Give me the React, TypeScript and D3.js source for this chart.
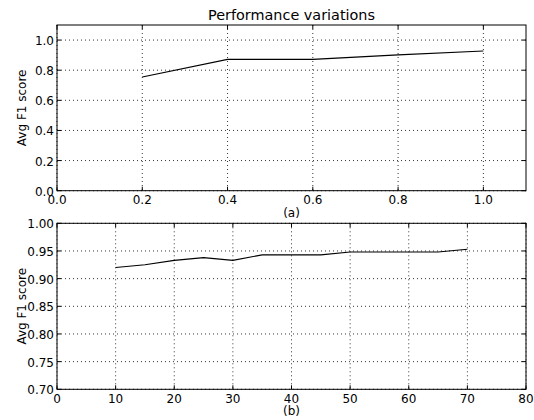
import React from "react";
import * as d3 from "d3";

const xA = [0.2, 0.4, 0.6, 0.8, 1.0];
const yA = [0.755, 0.872, 0.872, 0.902, 0.927];
const xTicksA = [0.0, 0.2, 0.4, 0.6, 0.8, 1.0];
const yTicksA = [0.0, 0.2, 0.4, 0.6, 0.8, 1.0];

const xB = [10, 15, 20, 25, 30, 35, 40, 45, 50, 55, 60, 65, 70];
const yB = [0.92, 0.925, 0.933, 0.938, 0.933, 0.943, 0.943, 0.943, 0.948, 0.948, 0.948, 0.948, 0.953];
const xTicksB = [0, 10, 20, 30, 40, 50, 60, 70, 80];
const yTicksB = [0.7, 0.75, 0.8, 0.85, 0.9, 0.95, 1.0];

const FONT = "'DejaVu Sans', sans-serif";

function Panel(props: {
  top: number; bottom: number; xDomain: [number, number]; yDomain: [number, number];
  xs: number[]; ys: number[]; xTicks: number[]; yTicks: number[];
  xFmt: (v: number) => string; yFmt: (v: number) => string; label: string;
}) {
  const left = 57, right = 526;
  const x = d3.scaleLinear().domain(props.xDomain).range([left, right]);
  const y = d3.scaleLinear().domain(props.yDomain).range([props.bottom, props.top]);
  const line = d3.line<number>().x((_, i) => x(props.xs[i])).y((d) => y(d));
  const tl = 4;
  return (
    <g>
      {props.xTicks.map((t) => (
        <line key={"gx" + t} x1={x(t)} x2={x(t)} y1={props.top} y2={props.bottom}
          stroke="#000" strokeWidth={0.8} strokeDasharray="1,3" />
      ))}
      {props.yTicks.map((t) => (
        <line key={"gy" + t} x1={left} x2={right} y1={y(t)} y2={y(t)}
          stroke="#000" strokeWidth={0.8} strokeDasharray="1,3" />
      ))}
      <path d={line(props.ys) || ""} fill="none" stroke="#000" strokeWidth={1.1} />
      <rect x={left} y={props.top} width={right - left} height={props.bottom - props.top}
        fill="none" stroke="#000" strokeWidth={1} />
      {props.xTicks.map((t) => (
        <g key={"tx" + t}>
          <line x1={x(t)} x2={x(t)} y1={props.bottom} y2={props.bottom - tl} stroke="#000" />
          <line x1={x(t)} x2={x(t)} y1={props.top} y2={props.top + tl} stroke="#000" />
          <text x={x(t)} y={props.bottom + 13.5} textAnchor="middle" fontSize={12} fontFamily={FONT}>
            {props.xFmt(t)}
          </text>
        </g>
      ))}
      {props.yTicks.map((t) => (
        <g key={"ty" + t}>
          <line x1={left} x2={left + tl} y1={y(t)} y2={y(t)} stroke="#000" />
          <line x1={right} x2={right - tl} y1={y(t)} y2={y(t)} stroke="#000" />
          <text x={left - 3} y={y(t) + 5} textAnchor="end" fontSize={12} fontFamily={FONT}>
            {props.yFmt(t)}
          </text>
        </g>
      ))}
      <text x={(left + right) / 2} y={props.bottom + 26} textAnchor="middle" fontSize={12} fontFamily={FONT}>
        {props.label}
      </text>
      <text transform={`translate(26,${(props.top + props.bottom) / 2}) rotate(-90)`}
        textAnchor="middle" fontSize={12} fontFamily={FONT}>Avg F1 score</text>
    </g>
  );
}

export default function App() {
  return (
    <svg width={534} height={420} style={{ position: "absolute", left: 0, top: 0, background: "#fff" }}>
      <rect width={534} height={420} fill="#fff" />
      <text x={291.5} y={19.5} textAnchor="middle" fontSize={14.4} fontFamily={FONT}>Performance variations</text>
      <Panel top={25} bottom={190.7} xDomain={[0, 1.1]} yDomain={[0, 1.1]}
        xs={xA} ys={yA} xTicks={xTicksA} yTicks={yTicksA}
        xFmt={d3.format(".1f")} yFmt={d3.format(".1f")} label="(a)" />
      <Panel top={223.3} bottom={389.3} xDomain={[0, 80]} yDomain={[0.7, 1.0]}
        xs={xB} ys={yB} xTicks={xTicksB} yTicks={yTicksB}
        xFmt={d3.format("d")} yFmt={d3.format(".2f")} label="(b)" />
    </svg>
  );
}
